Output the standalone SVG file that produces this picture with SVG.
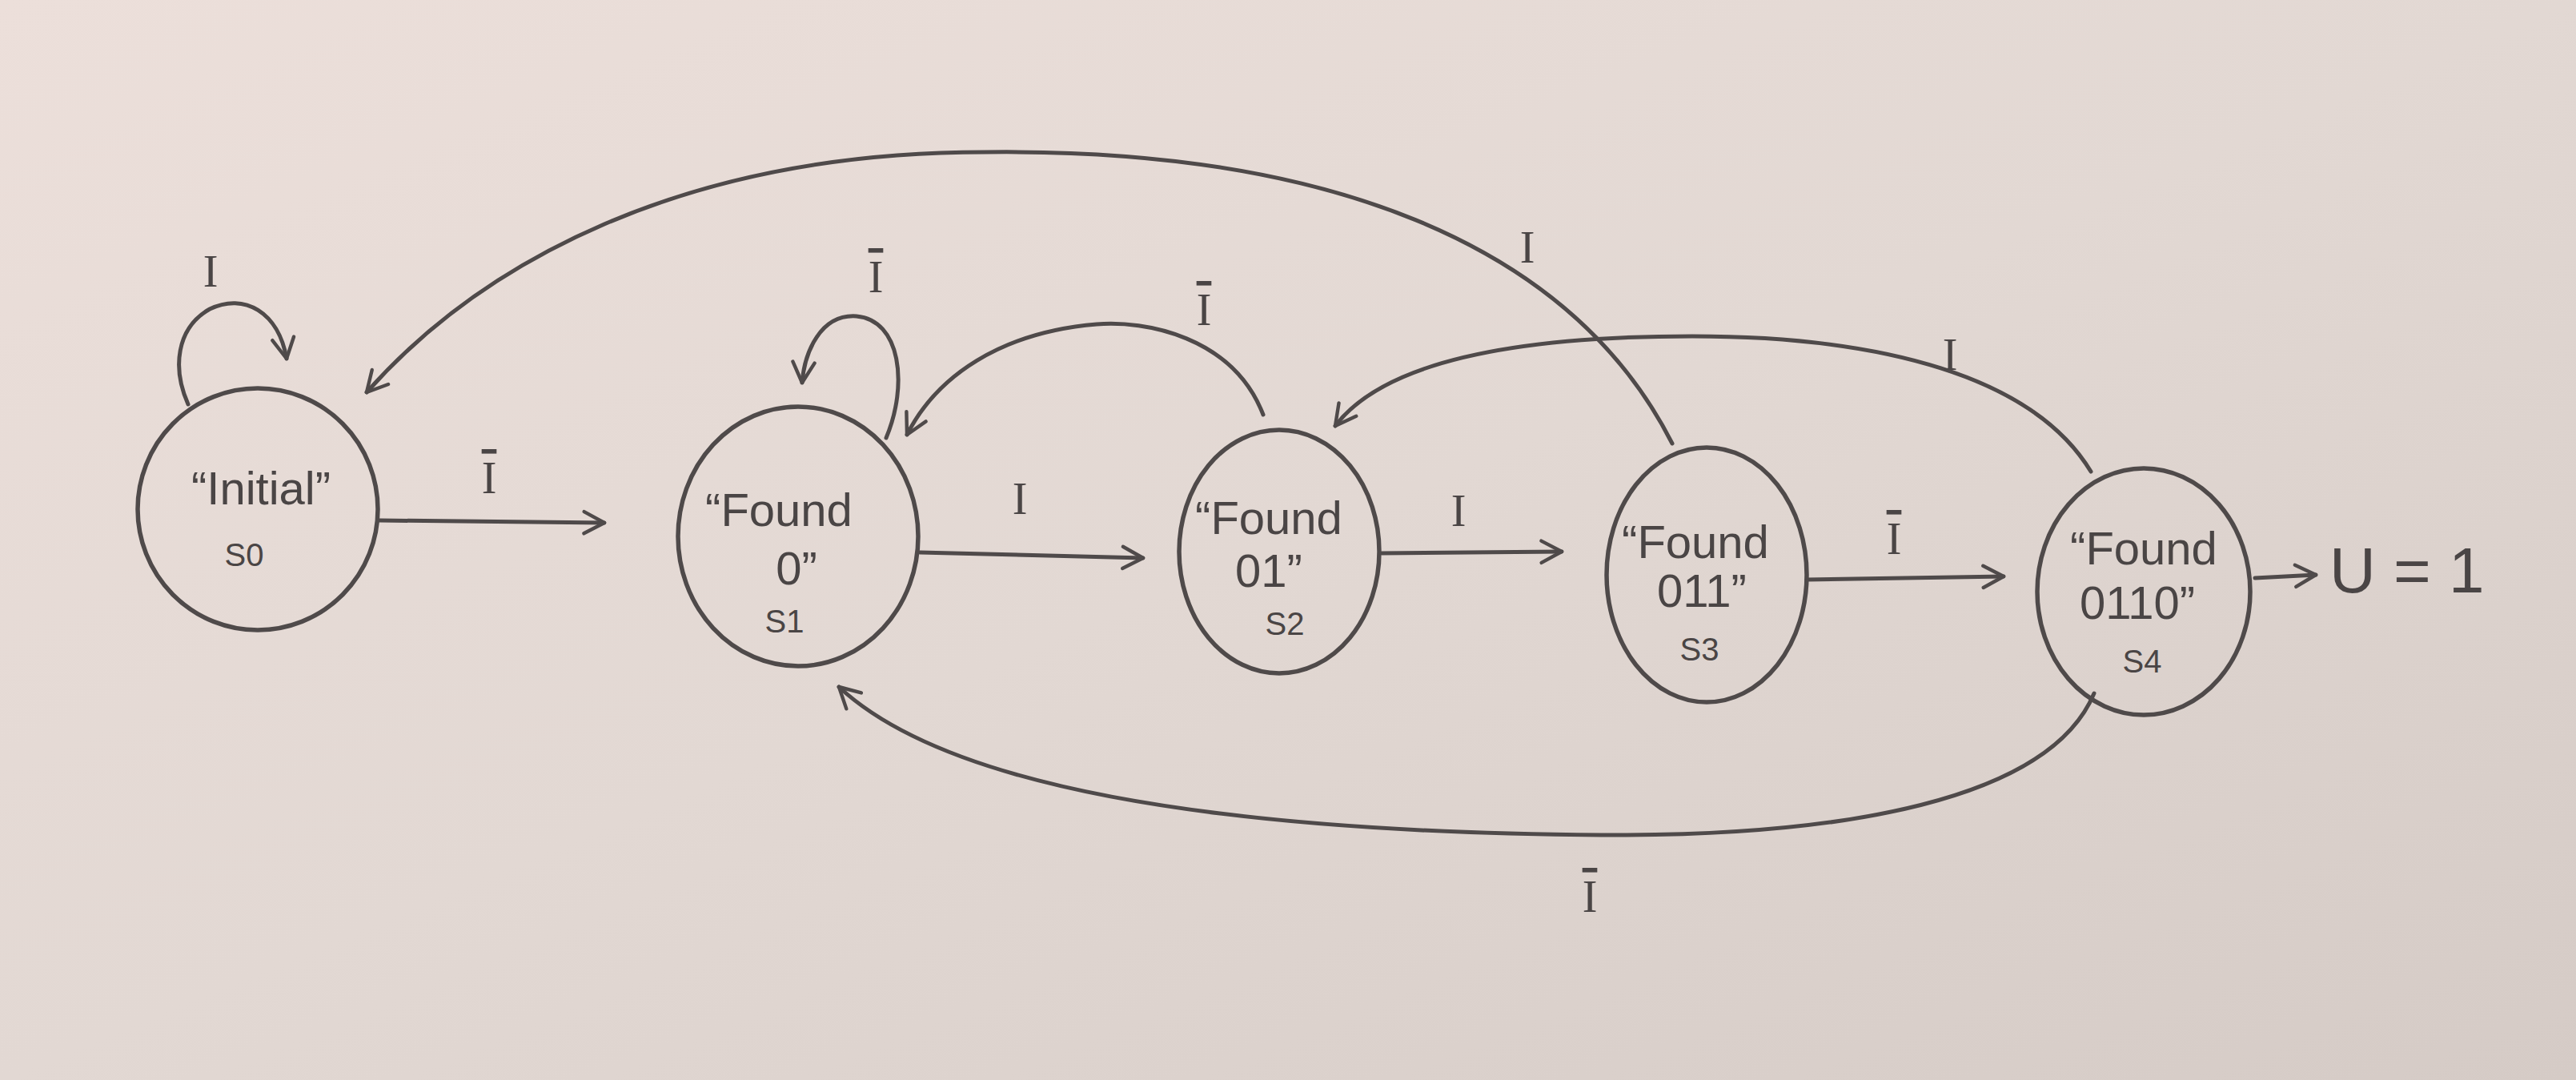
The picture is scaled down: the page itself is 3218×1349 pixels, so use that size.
<svg xmlns="http://www.w3.org/2000/svg" width="3218" height="1349" viewBox="0 0 3218 1349">
<defs>
<linearGradient id="paper" x1="0" y1="0" x2="1" y2="1">
<stop offset="0" stop-color="#ecdfda"/>
<stop offset="0.5" stop-color="#e2d8d3"/>
<stop offset="1" stop-color="#d5cbc6"/>
</linearGradient>
<marker id="arr" viewBox="0 0 20 20" refX="18" refY="10" markerWidth="34" markerHeight="34" markerUnits="userSpaceOnUse" orient="auto">
<path d="M3,2 L18,10 L3,18" fill="none" stroke="#4f4a4a" stroke-width="2.6" stroke-linecap="round" stroke-linejoin="round"/>
</marker>
<style>
.node{fill:none;stroke:#4f4a4a;stroke-width:5.5}
.edge{fill:none;stroke:#4f4a4a;stroke-width:5;stroke-linecap:round;marker-end:url(#arr)}
.t{font-family:"Liberation Sans","DejaVu Sans",sans-serif;fill:#4a4545;text-anchor:middle}
.big{font-size:58px}
.sm{font-size:40px}
.lab{font-family:"Liberation Serif","DejaVu Serif",serif;font-size:56px;fill:#4a4545;text-anchor:middle}
.bar{text-decoration:overline}
</style>
</defs>
<rect x="0" y="0" width="3218" height="1349" fill="url(#paper)"/>

<g id="connectors">
<path class="edge" d="M 235 505 C 215 460, 220 410, 262 386 C 305 365, 348 390, 358 448"/>
<path class="edge" d="M 474 650 L 755 653"/>
<path class="edge" d="M 1107 547 C 1135 480, 1125 400, 1070 395 C 1025 392, 1005 440, 1002 478"/>
<path class="edge" d="M 1578 518 C 1540 420, 1430 400, 1370 405 C 1250 415, 1170 470, 1133 543"/>
<path class="edge" d="M 1149 690 L 1428 697"/>
<path class="edge" d="M 1726 691 L 1951 689"/>
<path class="edge" d="M 2257 724 L 2503 720"/>
<path class="edge" d="M 2089 554 C 1960 300, 1650 185, 1231 190 C 850 190, 600 330, 458 490"/>
<path class="edge" d="M 2612 589 C 2540 470, 2350 420, 2114 420 C 1900 420, 1730 450, 1668 532"/>
<path class="edge" d="M 2616 866 C 2560 1000, 2300 1045, 2000 1043 C 1600 1040, 1200 1000, 1048 858"/>
<path class="edge" d="M 2817 722 L 2893 718"/>
<text class="lab" x="263" y="358">I</text>
<text class="lab bar" x="611" y="616">I</text>
<text class="lab bar" x="1094" y="365">I</text>
<text class="lab bar" x="1504" y="406">I</text>
<text class="lab" x="1274" y="642">I</text>
<text class="lab" x="1822" y="657">I</text>
<text class="lab bar" x="2366" y="692">I</text>
<text class="lab" x="1908" y="328">I</text>
<text class="lab" x="2436" y="462">I</text>
<text class="lab bar" x="1986" y="1139">I</text>
</g>

<g id="s0">
<ellipse class="node" cx="322" cy="636" rx="150" ry="151"/>
<text class="t big" x="326" y="630">“Initial”</text>
<text class="t sm" x="305" y="707">S0</text>
</g>
<g id="s1">
<ellipse class="node" cx="997" cy="670" rx="150" ry="162"/>
<text class="t big" x="973" y="657">“Found</text>
<text class="t big" x="995" y="730">0”</text>
<text class="t sm" x="980" y="790">S1</text>
</g>
<g id="s2">
<ellipse class="node" cx="1598" cy="689" rx="125" ry="152"/>
<text class="t big" x="1585" y="667">“Found</text>
<text class="t big" x="1585" y="733">01”</text>
<text class="t sm" x="1605" y="793">S2</text>
</g>
<g id="s3">
<ellipse class="node" cx="2132" cy="718" rx="125" ry="159"/>
<text class="t big" x="2118" y="697">“Found</text>
<text class="t big" x="2126" y="758">011”</text>
<text class="t sm" x="2123" y="825">S3</text>
</g>
<g id="s4">
<ellipse class="node" cx="2678" cy="739" rx="133" ry="154"/>
<text class="t big" x="2678" y="705">“Found</text>
<text class="t big" x="2670" y="773">0110”</text>
<text class="t sm" x="2676" y="840">S4</text>
</g>
<g id="output">
<text class="t" style="font-size:80px;text-anchor:start" x="2910" y="740">U = 1</text>
</g>
</svg>
